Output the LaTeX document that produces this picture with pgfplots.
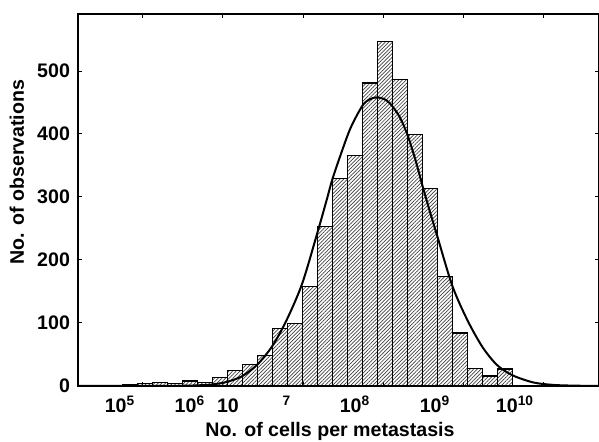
\documentclass[border=0pt]{standalone}
\usepackage{fontspec}
\setmainfont{Liberation Sans}
\usepackage{pgfplots}
\pgfplotsset{compat=1.18}
\usetikzlibrary{patterns.meta}

\begin{document}
\begin{tikzpicture}
\path[use as bounding box] (-39pt,-28pt) rectangle (260.5pt,193pt);
\begin{axis}[
  at={(0,0)}, anchor=south west,
  scale only axis, width=260.5pt, height=186pt,
  xmin=4.195, xmax=10.688, ymin=0, ymax=590.5,
  xtick={5,...,10}, xticklabels={},
  ytick={0,100,...,500},
  tick align=inside, major tick length=2pt,
  tick style={black, line width=0.5pt},
  axis line style={line width=0.65pt},
  clip=false,
  font=\fontsize{9.8}{11.8}\selectfont\bfseries,
  /pgf/number format/assume math mode=true,
  yticklabel style={xshift=-0.5pt},
  ylabel={No. of observations},
  ylabel style={at={(axis description cs:-0.1171,0.575)}, anchor=center},
  xlabel={No. of cells per metastasis},
  xlabel style={at={(axis description cs:0.4837,-0.1371)}, anchor=base},
]
% histogram, bin edges in log10 units
\addplot[ybar interval, draw=black, line width=0.6pt,
  pattern={Lines[angle=45,distance=1.3pt,line width=0.35pt]}, pattern color=black!75]
coordinates {
 (4.560,1) (4.747,2) (4.934,4) (5.121,5) (5.308,4) (5.495,8) (5.682,5)
 (5.869,13) (6.056,25) (6.243,34) (6.430,48) (6.617,91) (6.804,99)
 (6.991,158) (7.178,253) (7.365,329) (7.552,366) (7.739,481) (7.926,547)
 (8.113,486) (8.300,399) (8.487,313) (8.674,174) (8.861,84) (9.048,28)
 (9.235,16) (9.422,27) (9.609,0)};
% fitted curve
\addplot[black, line width=1pt, smooth] coordinates {
 (4.195,0) (5.0,0.05) (5.5,0.4) (5.68,1) (5.87,2.5) (6.05,6.5) (6.24,15.5)
 (6.43,34) (6.62,64) (6.80,106) (6.99,163) (7.18,244) (7.30,298) (7.36,326)
 (7.46,364) (7.59,409) (7.74,445) (7.83,455) (7.91,458) (8.00,456) (8.08,449)
 (8.20,428) (8.30,399) (8.40,359) (8.49,317) (8.58,277) (8.67,239) (8.86,159)
 (9.05,104) (9.24,61) (9.42,33) (9.61,17) (9.87,5.6) (10.12,1.7) (10.4,0.5)
 (10.688,0.1)};
% x tick labels (offset from the tick marks as in the original)
\node[anchor=base, yshift=-13.5pt] at (axis cs:4.719,0) {10\textsuperscript{5}};
\node[anchor=base, yshift=-13.5pt] at (axis cs:5.590,0) {10\textsuperscript{6}};
\node[anchor=base, yshift=-13.5pt] at (axis cs:6.064,0) {10};
\node[anchor=base, yshift=-13.5pt] at (axis cs:6.800,0) {\textsuperscript{7}};
\node[anchor=base, yshift=-13.5pt] at (axis cs:7.647,0) {10\textsuperscript{8}};
\node[anchor=base, yshift=-13.5pt] at (axis cs:8.644,0) {10\textsuperscript{9}};
\node[anchor=base, yshift=-13.5pt] at (axis cs:9.641,0) {10\textsuperscript{10}};
\end{axis}
\end{tikzpicture}
\end{document}
